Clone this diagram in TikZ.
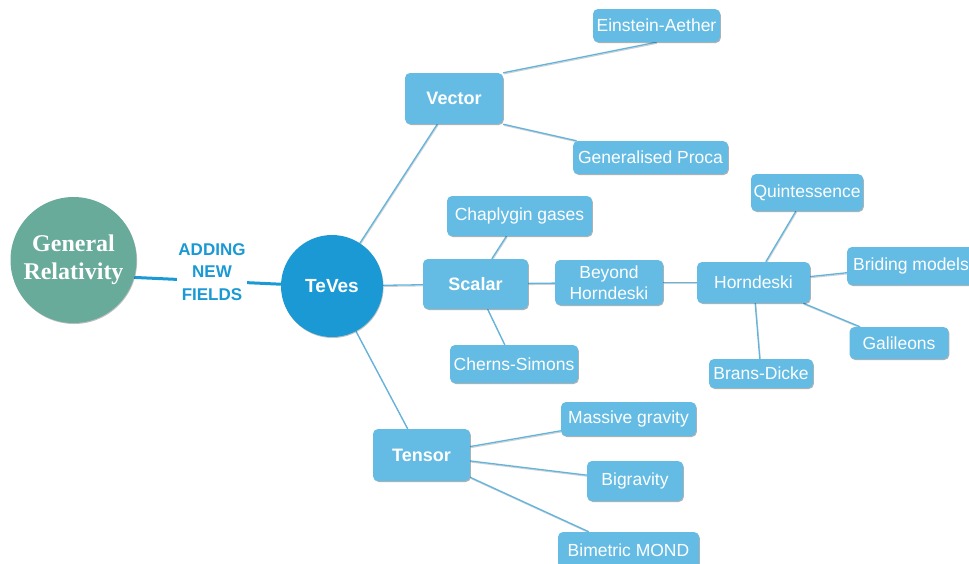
\documentclass[tikz,border=0pt]{standalone}
\usepackage{fontspec}
\setmainfont{Liberation Sans}
\newfontfamily\grfont{Liberation Serif}
\usetikzlibrary{shadows,backgrounds}
\definecolor{boxc}{HTML}{64BCE4}
\definecolor{linec}{HTML}{62B4DE}
\definecolor{tevc}{HTML}{1A99D5}
\definecolor{grc}{HTML}{68AB9B}
\tikzset{
  leaf/.style={rectangle, rounded corners=5pt, fill=boxc, text=white,
    font=\fontsize{17.5}{21}\selectfont, align=center, inner sep=2pt,
    drop shadow={shadow xshift=0.8pt, shadow yshift=-1pt, opacity=0.3, fill=black}},
  hub/.style={leaf, font=\fontsize{18}{21}\selectfont\bfseries},
  sz/.style 2 args={minimum width=#1pt, minimum height=#2pt},
  link/.style={draw=linec, line width=1.3pt,
    preaction={draw=black!18, line width=1.1pt, transform canvas={shift={(0.6pt,-1.1pt)}}}},
  bigcirc/.style={circle, text=white, inner sep=0pt,
    drop shadow={shadow xshift=0.6pt, shadow yshift=-1pt, opacity=0.25, fill=black}}
}
\begin{document}
\begin{tikzpicture}[x=1pt, y=-1pt]
\useasboundingbox (0,0) rectangle (969,563);
% circles
\node[bigcirc, fill=grc, minimum size=126pt, align=center,
  font=\fontsize{24}{28}\selectfont\grfont\bfseries] (gr) at (73.5,260) {General\\Relativity};
\node[bigcirc, fill=tevc, minimum size=102pt,
  font=\fontsize{19}{22}\selectfont\bfseries] (tev) at (332,286) {TeVes};
% hubs
\node[hub, sz={98}{51}] (vec) at (454,98.5) {Vector};
\node[hub, sz={105}{50}] (sca) at (475.5,284) {Scalar};
\node[hub, sz={97}{52}] (ten) at (421.5,455) {Tensor};
% leaves
\node[leaf, sz={127}{33}] (ea) at (656.5,25.5) {Einstein-Aether};
\node[leaf, sz={155}{33}] (gp) at (650.5,157.5) {Generalised Proca};
\node[leaf, sz={145}{40}] (cha) at (519.5,216) {Chaplygin gases};
\node[leaf, sz={128}{38}] (che) at (514,364) {Cherns-Simons};
\node[leaf, sz={108}{45}] (bey) at (609,282.5) {Beyond\\Horndeski};
\node[leaf, sz={113}{41}] (hor) at (753.5,282.5) {Horndeski};
\node[leaf, sz={112}{37}] (qui) at (807,192.5) {Quintessence};
\node[leaf, sz={128}{38}] (bri) at (911,266) {Briding models};
\node[leaf, sz={99}{32}] (gal) at (899,343) {Galileons};
\node[leaf, sz={104}{29}] (bra) at (761,373.5) {Brans-Dicke};
\node[leaf, sz={135}{34}] (mas) at (628.5,419) {Massive gravity};
\node[leaf, sz={96}{40}] (big) at (635,481) {Bigravity};
\node[leaf, sz={141}{36}] (bim) at (628.5,550) {Bimetric MOND};
% label on the main connector
\node[fill=white, inner sep=1pt, text=tevc, align=center,
  font=\fontsize{17}{22.5}\selectfont\bfseries] (add) at (212,272) {ADDING\\NEW\\FIELDS};
\begin{scope}[on background layer]
\draw[draw=tevc, line width=3pt] (gr.-16) -- (tev.178);
\draw[link] (tev) -- (vec);
\draw[link] (tev) -- (sca);
\draw[link] (tev) -- (ten);
\draw[link] (vec.north east) -- (ea.south);
\draw[link] (vec.south east) -- (gp);
\draw[link] (sca) -- (cha);
\draw[link] (sca) -- (che);
\draw[link] (sca) -- (bey);
\draw[link] (bey) -- (hor);
\draw[link] (hor) -- (qui);
\draw[link] (hor) -- (bri);
\draw[link] (hor) -- (gal);
\draw[link] (hor) -- (bra);
\draw[link] (ten) -- (mas);
\draw[link] (ten) -- (big);
\draw[link] (ten) -- (bim);
\end{scope}
\end{tikzpicture}
\end{document}
